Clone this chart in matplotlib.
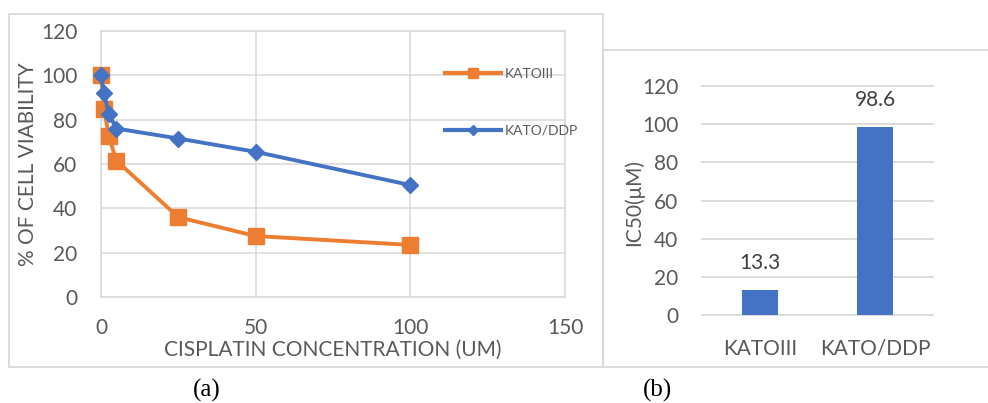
import matplotlib.pyplot as plt
from matplotlib.patches import Rectangle
from matplotlib.lines import Line2D

# Data
concentration = [0, 1, 2.5, 5, 25, 50, 100]
katoiii_viability = [100, 85, 72.5, 61.5, 36, 27.5, 23.5]
katoddp_viability = [100, 92, 82.5, 76, 71.5, 65.5, 50.5]

cell_lines = ["KATOIII", "KATO/DDP"]
ic50_values = [13.3, 98.6]

ORANGE = "#ED7D31"
BLUE = "#4472C4"
GRID = "#d9d9d9"
TXT = "#595959"
FONT = ["Lato", "DejaVu Sans"]

plt.rcParams["font.family"] = FONT

W, H = 988, 403
fig = plt.figure(figsize=(W / 100, H / 100), dpi=100)

def fx(px):
    return px / W

def fy(py):
    return 1 - py / H

# Panel frames
fig.add_artist(Rectangle((fx(9), fy(367)), fx(603) - fx(9), fy(14) - fy(367),
                         transform=fig.transFigure, fill=False, edgecolor=GRID, lw=1.3))
fig.add_artist(Rectangle((fx(603), fy(367)), fx(990) - fx(603), fy(50) - fy(367),
                         transform=fig.transFigure, fill=False, edgecolor=GRID, lw=1.3))

# (a) viability curves
ax1 = fig.add_axes([fx(101), fy(297), fx(565) - fx(101), fy(31) - fy(297)])
ax1.plot(concentration, katoiii_viability, color=ORANGE, marker="s", ms=12,
         lw=2.8, clip_on=False, zorder=3)
ax1.plot(concentration, katoddp_viability, color=BLUE, marker="D", ms=8,
         lw=2.8, clip_on=False, zorder=4)
ax1.set_xlim(0, 150)
ax1.set_ylim(0, 120)
ax1.set_xticks([0, 50, 100, 150])
ax1.set_yticks(range(0, 121, 20))
ax1.grid(color=GRID, lw=1.1)
ax1.set_axisbelow(True)
for s in ax1.spines.values():
    s.set_color(GRID)
    s.set_linewidth(1.1)
ax1.tick_params(length=0, pad=17, labelsize=15, labelcolor=TXT)
ax1.tick_params(axis="x", pad=15)

handles = [
    Line2D([], [], color=ORANGE, lw=3.0, marker="s", ms=7),
    Line2D([], [], color=BLUE, lw=3.0, marker="D", ms=5),
]
ax1.legend(handles, ["KATOIII", "KATO/DDP"], loc="upper left",
           bbox_to_anchor=(fx(445), fy(68)), bbox_transform=fig.transFigure,
           frameon=False, fontsize=10, labelcolor=TXT, handlelength=4.0,
           handletextpad=0.3, labelspacing=3.2, borderpad=0, borderaxespad=0)

fig.text(fx(333), fy(350), "CISPLATIN CONCENTRATION (UM)", ha="center", va="center",
         fontsize=15, color=TXT)
fig.text(fx(28), fy(164), "% OF CELL VIABILITY", ha="center", va="center",
         rotation=90, fontsize=15, color=TXT)

# (b) IC50 bars
ax2 = fig.add_axes([fx(702), fy(315.3), fx(933) - fx(702), fy(86) - fy(315.3)])
bars = ax2.bar(range(len(cell_lines)), ic50_values, width=0.31, color=BLUE, zorder=3)
ax2.bar_label(bars, fmt="%.1f", padding=12, fontsize=15, color="#404040")
ax2.set_xlim(-0.5, 1.5)
ax2.set_ylim(0, 120)
ax2.set_yticks(range(0, 121, 20))
ax2.set_xticks(range(len(cell_lines)))
ax2.set_xticklabels(cell_lines)
ax2.grid(axis="y", color=GRID, lw=1.3)
for line in ax2.get_ygridlines():
    line.set_clip_on(False)
for s in ax2.spines.values():
    s.set_visible(False)
ax2.tick_params(length=0, pad=17, labelsize=15, labelcolor=TXT)

fig.text(fx(634), fy(203), "IC50(\u03bcM)", ha="center", va="center",
         rotation=90, fontsize=15, color=TXT)

fig.text(fx(207), fy(390), "(a)", ha="center", va="center", fontsize=18,
         family="Liberation Serif", color="black")
fig.text(fx(657), fy(390), "(b)", ha="center", va="center", fontsize=18,
         family="Liberation Serif", color="black")

plt.savefig("out.png", dpi=100)
